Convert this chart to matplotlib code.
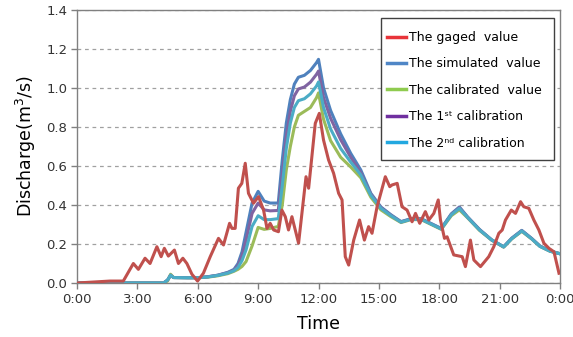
import matplotlib
matplotlib.use("Agg")
import matplotlib.pyplot as plt
from matplotlib.lines import Line2D
from matplotlib.patches import Rectangle

# ---- data (hours, m^3/s) ----
t_gaged = [0, 1.64, 2.30, 2.80, 3.05, 3.38, 3.63, 3.97, 4.18, 4.34, 4.54, 4.84, 5.04, 5.26, 5.46,
           5.71, 5.99, 6.28, 6.62, 7.03, 7.28, 7.58, 7.70, 7.86, 8.02, 8.19, 8.36, 8.52, 8.77,
           9.02, 9.27, 9.44, 9.60, 9.77, 10.01, 10.18, 10.35, 10.51, 10.68, 11.01, 11.38, 11.51,
           11.84, 12.04, 12.25, 12.50, 12.75, 13.00, 13.17, 13.33, 13.50, 13.75, 14.04, 14.28,
           14.49, 14.66, 14.91, 15.32, 15.54, 15.66, 15.91, 16.15, 16.40, 16.65, 16.82, 17.03,
           17.31, 17.48, 17.73, 17.95, 18.06, 18.26, 18.39, 18.72, 19.14, 19.30, 19.55, 19.72,
           20.05, 20.46, 20.71, 20.96, 21.13, 21.29, 21.58, 21.79, 22.04, 22.20, 22.45, 22.70,
           22.95, 23.20, 23.45, 23.70, 23.95]
gaged = [0, 0.01, 0.01, 0.10, 0.07, 0.127, 0.10, 0.186, 0.135, 0.178, 0.138, 0.169, 0.10, 0.127, 0.10,
         0.045, 0.01, 0.05, 0.135, 0.229, 0.195, 0.306, 0.28, 0.28, 0.486, 0.511, 0.614, 0.46, 0.409,
         0.443, 0.374, 0.28, 0.306, 0.272, 0.263, 0.374, 0.34, 0.272, 0.34, 0.204, 0.545, 0.486,
         0.819, 0.87, 0.733, 0.631, 0.563, 0.46, 0.426, 0.135, 0.092, 0.22, 0.323, 0.22,
         0.289, 0.255, 0.391, 0.545, 0.494, 0.503, 0.511, 0.391, 0.374, 0.314, 0.357, 0.306,
         0.366, 0.323, 0.357, 0.426, 0.323, 0.229, 0.237, 0.144, 0.135, 0.084, 0.22, 0.118,
         0.084, 0.135, 0.186, 0.255, 0.272, 0.323, 0.374, 0.357, 0.417, 0.391, 0.383, 0.323,
         0.272, 0.204, 0.178, 0.16, 0.05]

t_model = [0, 4.3, 4.5, 4.65, 4.8, 5.5, 6.0, 6.5, 7.0, 7.5, 7.8, 8.0, 8.2, 8.4, 8.7, 9.0, 9.3, 9.6,
           10.0, 10.2, 10.4, 10.6, 10.8, 11.0, 11.3, 11.6, 11.9, 12.0, 12.25, 12.6, 13.1, 13.6,
           14.1, 14.6, 15.1, 15.6, 16.1, 16.6, 17.1, 17.6, 18.1, 18.6, 19.0, 19.4, 20.0, 20.6,
           21.2, 21.6, 22.1, 22.6, 23.0, 23.5, 24.0]
simulated = [0, 0, 0.015, 0.04, 0.028, 0.027, 0.027, 0.032, 0.04, 0.055, 0.07, 0.10, 0.16, 0.26, 0.41,
             0.47, 0.42, 0.41, 0.41, 0.63, 0.82, 0.94, 1.02, 1.055, 1.065, 1.09, 1.13, 1.147, 1.0,
             0.885, 0.765, 0.665, 0.58, 0.46, 0.39, 0.35, 0.315, 0.33, 0.33, 0.305, 0.28, 0.355,
             0.39, 0.34, 0.275, 0.222, 0.186, 0.23, 0.27, 0.228, 0.19, 0.165, 0.15]
calibrated = [0, 0, 0.01, 0.045, 0.028, 0.027, 0.027, 0.03, 0.037, 0.048, 0.06, 0.07, 0.085, 0.11, 0.19,
              0.285, 0.275, 0.28, 0.29, 0.40, 0.58, 0.70, 0.80, 0.86, 0.88, 0.90, 0.95, 0.975, 0.84,
              0.73, 0.645, 0.595, 0.54, 0.44, 0.375, 0.34, 0.31, 0.325, 0.325, 0.30, 0.275, 0.345,
              0.375, 0.335, 0.27, 0.22, 0.184, 0.226, 0.265, 0.225, 0.188, 0.163, 0.15]
first_cal = [0, 0, 0.015, 0.04, 0.028, 0.027, 0.027, 0.032, 0.04, 0.053, 0.066, 0.09, 0.14, 0.22, 0.357,
             0.41, 0.375, 0.37, 0.372, 0.56, 0.75, 0.88, 0.96, 0.995, 1.005, 1.03, 1.07, 1.087, 0.95,
             0.845, 0.735, 0.645, 0.565, 0.455, 0.387, 0.347, 0.313, 0.328, 0.328, 0.303, 0.278, 0.352,
             0.387, 0.338, 0.273, 0.221, 0.185, 0.228, 0.268, 0.227, 0.189, 0.164, 0.15]
second_cal = [0, 0, 0.015, 0.04, 0.028, 0.027, 0.027, 0.031, 0.039, 0.051, 0.063, 0.08, 0.115, 0.17, 0.29,
              0.345, 0.325, 0.325, 0.33, 0.50, 0.69, 0.82, 0.90, 0.935, 0.945, 0.97, 1.01, 1.031, 0.90,
              0.79, 0.69, 0.62, 0.555, 0.45, 0.383, 0.345, 0.312, 0.327, 0.327, 0.302, 0.277, 0.35,
              0.383, 0.337, 0.272, 0.221, 0.185, 0.227, 0.267, 0.226, 0.188, 0.163, 0.15]

labels = ["The gaged  value", "The simulated  value", "The calibrated  value",
          "The 1\u02e2\u1d57 calibration", "The 2\u207f\u1d48 calibration"]
x_ticks = [0, 3, 6, 9, 12, 15, 18, 21, 24]
x_ticklabels = ["0:00", "3:00", "6:00", "9:00", "12:00", "15:00", "18:00", "21:00", "0:00"]
y_ticks = [0.0, 0.2, 0.4, 0.6, 0.8, 1.0, 1.2, 1.4]

# ---- figure ----
fig = plt.figure(figsize=(5.73, 3.37), dpi=100)
ax = fig.add_axes([77 / 573, 54 / 337, 483 / 573, 273 / 337])

c_red, c_blue, c_green, c_purple, c_cyan = "#C0504D", "#4F81BD", "#9BBB59", "#8064A2", "#4BACC6"
lw = 2.2
ax.plot(t_model, simulated, color=c_blue, lw=lw, solid_joinstyle="round", zorder=3)
ax.plot(t_model, calibrated, color=c_green, lw=lw, solid_joinstyle="round", zorder=3)
ax.plot(t_model, first_cal, color=c_purple, lw=lw, solid_joinstyle="round", zorder=3)
ax.plot(t_model, second_cal, color=c_cyan, lw=lw, solid_joinstyle="round", zorder=3)
ax.plot(t_gaged, gaged, color=c_red, lw=lw, solid_joinstyle="round", zorder=4)

ax.set_xlim(0, 24)
ax.set_ylim(0, 1.4)
ax.set_xticks(x_ticks)
ax.set_xticklabels(x_ticklabels)
ax.set_yticks(y_ticks)
ax.set_yticklabels([f"{v:.1f}" for v in y_ticks])
ax.tick_params(axis="both", direction="out", length=4, width=1, color="#808080",
               labelsize=9.5, labelcolor="#333333", pad=3)
ax.yaxis.grid(True, linestyle=(0, (3, 3)), color="#A0A0A0", lw=0.9)
ax.set_axisbelow(True)
for s in ax.spines.values():
    s.set_color("#808080")
    s.set_linewidth(1)

ax.set_ylabel("Discharge(m$^{\\mathregular{3}}$/s)", fontsize=12.5, labelpad=6)
ax.set_xlabel("Time", fontsize=12.5, labelpad=7)

# legend box
box = Rectangle((0.6294, 0.4505), 0.3582, 0.5202, transform=ax.transAxes,
                facecolor="white", edgecolor="#404040", lw=1.0, zorder=5, clip_on=False)
ax.add_patch(box)

handles = [Line2D([], [], color=c, lw=2.5) for c in
           ["#E8343A", "#4F86C6", "#8FCB4F", "#7030A0", "#22A8E0"]]
leg = ax.legend(handles, labels, loc="upper left", bbox_to_anchor=(0.6418, 0.923),
                fontsize=9, frameon=False, handlelength=1.5,
                handletextpad=0.3, labelspacing=1.07, borderpad=0, borderaxespad=0)
leg.set_zorder(6)

fig.savefig("out.png", dpi=100)
